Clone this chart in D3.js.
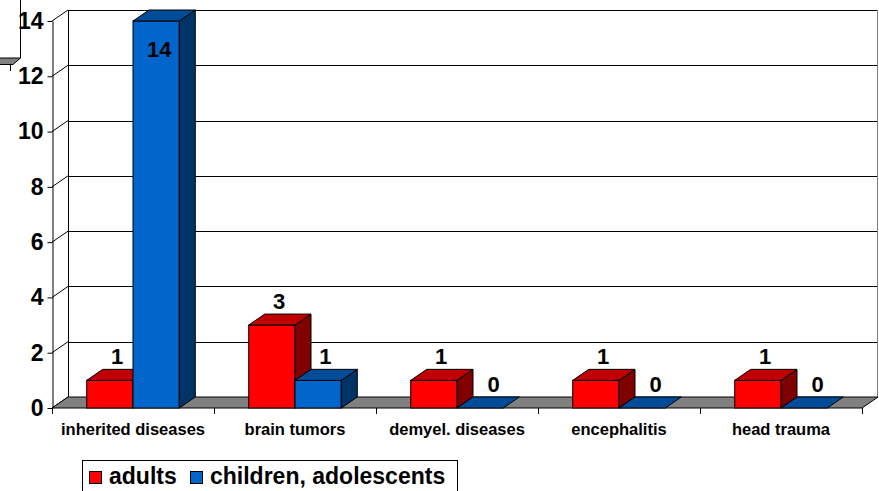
<!DOCTYPE html>
<html>
<head>
<meta charset="utf-8">
<script src="https://cdn.jsdelivr.net/npm/d3@7"></script>
<style>
  html, body { margin: 0; padding: 0; background: #fff; }
  svg { display: block; }
  text { font-family: "Liberation Sans", Arial, sans-serif; font-weight: bold; fill: #000; }
</style>
</head>
<body>
<svg id="chart" width="879" height="491"></svg>
<script>
// Case counts per diagnosis group
const categories = ["inherited diseases", "brain tumors", "demyel. diseases", "encephalitis", "head trauma"];
const seriesNames = ["adults", "children, adolescents"];
const adults = [1, 3, 1, 1, 1];
const children = [14, 1, 0, 0, 0];
const yTicks = [0, 2, 4, 6, 8, 10, 12, 14];

// Face colours of the 3D bars: front, top, side
const palette = {
  "adults": { front: "#ff0000", top: "#c00000", side: "#800000" },
  "children, adolescents": { front: "#0066cc", top: "#004c99", side: "#003366" }
};

const svg = d3.select("#chart");
const plot = { left: 52, right: 862, bottom: 408, top: 21 };
const depth = { dx: 16, dy: -11 };

const y = d3.scaleLinear().domain([0, 14]).range([plot.bottom, plot.top]);
const x = d3.scaleBand().domain(categories).range([plot.left, plot.right]);
const xs = d3.scaleBand().domain(seriesNames).range([0, x.bandwidth()])
  .paddingInner(0).paddingOuter(0.75);

const crisp = v => Math.round(v) + 0.5;

// Back wall: gridlines and frame
const wall = svg.append("g");
const bx0 = plot.left + depth.dx, bx1 = plot.right + depth.dx;
wall.selectAll("line.grid").data(yTicks.filter(t => t > 0)).join("line")
  .attr("x1", bx0).attr("x2", bx1)
  .attr("y1", d => crisp(y(d) + depth.dy)).attr("y2", d => crisp(y(d) + depth.dy))
  .attr("stroke", "#000").attr("stroke-width", 1);
wall.append("line")
  .attr("x1", crisp(bx0)).attr("x2", crisp(bx0))
  .attr("y1", y(14) + depth.dy).attr("y2", y(0) + depth.dy)
  .attr("stroke", "#000");
wall.append("line")
  .attr("x1", crisp(bx1) - 1).attr("x2", crisp(bx1) - 1)
  .attr("y1", y(14) + depth.dy).attr("y2", y(0) + depth.dy)
  .attr("stroke", "#808080");

// Side wall: diagonal gridlines from the front axis to the back wall
wall.selectAll("line.side").data(yTicks).join("line")
  .attr("x1", plot.left).attr("y1", d => y(d))
  .attr("x2", plot.left + depth.dx).attr("y2", d => y(d) + depth.dy)
  .attr("stroke", "#000");

// Floor
svg.append("polygon")
  .attr("points", [
    [plot.left, y(0)], [plot.right, y(0)],
    [plot.right + depth.dx, y(0) + depth.dy], [plot.left + depth.dx, y(0) + depth.dy]
  ].map(p => p.join(",")).join(" "))
  .attr("fill", "#808080").attr("stroke", "#000").attr("stroke-width", 1);

// Value axis
const yAxis = svg.append("g")
  .attr("transform", `translate(${crisp(plot.left)},0)`)
  .call(d3.axisLeft(y).tickValues(yTicks).tickFormat(d3.format("d"))
    .tickSize(5).tickSizeOuter(0).tickPadding(4));
yAxis.select(".domain").attr("stroke", "#000");
yAxis.selectAll(".tick line").attr("stroke", "#000");
yAxis.selectAll(".tick text").style("font-size", "23px").style("font-family", "'Liberation Sans', Arial, sans-serif").style("font-weight", "bold").attr("fill", "#000");

// Category axis: boundary ticks and centred labels
const xAxis = svg.append("g")
  .attr("transform", `translate(0,${crisp(plot.bottom)})`)
  .call(d3.axisBottom(x).tickSize(0).tickPadding(15));
xAxis.select(".domain").remove();
xAxis.selectAll(".tick text").style("font-size", "16.5px").style("font-family", "'Liberation Sans', Arial, sans-serif").style("font-weight", "bold").attr("fill", "#000");
const bounds = categories.map(c => x(c)).concat([x(categories[categories.length - 1]) + x.bandwidth()]);
svg.append("g").selectAll("line").data(bounds).join("line")
  .attr("x1", d => crisp(d)).attr("x2", d => crisp(d))
  .attr("y1", plot.bottom).attr("y2", plot.bottom + 6)
  .attr("stroke", "#000");

// Bars
const rows = categories.map((c, i) => ({
  category: c,
  values: [
    { series: seriesNames[0], value: adults[i] },
    { series: seriesNames[1], value: children[i] }
  ]
}));

const bw = xs.bandwidth();
const pts = arr => arr.map(p => p.join(",")).join(" ");
const bars = svg.append("g");
rows.forEach(r => {
  r.values.forEach(v => {
    const x0 = x(r.category) + xs(v.series), x1 = x0 + bw;
    const yt = y(v.value), yb = y(0);
    const col = palette[v.series];
    const g = bars.append("g").attr("stroke", "#000").attr("stroke-width", 1).attr("stroke-linejoin", "miter");
    if (v.value > 0) {
      g.append("rect").attr("x", x0).attr("y", yt).attr("width", bw).attr("height", yb - yt).attr("fill", col.front);
      g.append("polygon").attr("points", pts([[x1, yt], [x1 + depth.dx, yt + depth.dy], [x1 + depth.dx, yb + depth.dy], [x1, yb]]))
        .attr("fill", col.side);
    }
    g.append("polygon").attr("points", pts([[x0, yt], [x1, yt], [x1 + depth.dx, yt + depth.dy], [x0 + depth.dx, yt + depth.dy]]))
      .attr("fill", col.top);

    // Value label above the bar, or inside its top when there is no room
    const backTop = yt + depth.dy;
    const inside = backTop - 24 < 0;
    const shift = v.value === 0 ? depth.dx * 0.85 : depth.dx * 0.45;
    bars.append("text")
      .attr("x", inside ? x0 + bw / 2 + 3 : x0 + bw / 2 + shift)
      .attr("y", inside ? yt + 36 : backTop - 5)
      .attr("text-anchor", "middle")
      .style("font-size", "22px")
      .text(v.value);
  });
});

// Corner of the neighbouring frame at the top left
svg.append("line").attr("x1", 20.5).attr("x2", 20.5).attr("y1", 0).attr("y2", 58).attr("stroke", "#000");
svg.append("polygon").attr("points", pts([[-2, 58], [20.5, 58], [13, 64.5], [-2, 64.5]]))
  .attr("fill", "#808080").attr("stroke", "#000");
svg.append("line").attr("x1", 10.5).attr("x2", 10.5).attr("y1", 64.5).attr("y2", 71).attr("stroke", "#000");

// Legend
const legend = svg.append("g");
legend.append("rect").attr("x", 82.5).attr("y", 460.5).attr("width", 375).attr("height", 40)
  .attr("fill", "#fff").attr("stroke", "#000");
const legendX = [89, 190];
seriesNames.forEach((s, i) => {
  legend.append("rect").attr("x", legendX[i] + 0.5).attr("y", 471.5).attr("width", 12).attr("height", 12)
    .attr("fill", palette[s].front).attr("stroke", "#000");
  legend.append("text").attr("x", legendX[i] + 20).attr("y", 484)
    .style("font-size", "23px").text(s);
});
</script>
</body>
</html>
